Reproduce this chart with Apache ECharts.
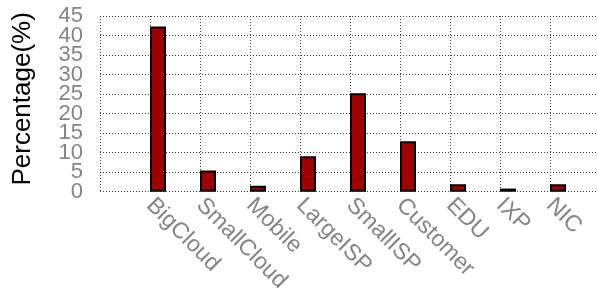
<!DOCTYPE html>
<html>
<head>
<meta charset="utf-8">
<script src="https://cdn.jsdelivr.net/npm/echarts@6/dist/echarts.min.js"></script>
<style>
html,body{margin:0;padding:0;background:#fff;}
#c{width:597px;height:296px;}
</style>
</head>
<body>
<div id="c"></div>
<script>
const categories = ['BigCloud','SmallCloud','Mobile','LargeISP','SmallISP','Customer','EDU','IXP','NIC'];
const percentages = [42.3, 5.4, 1.5, 9.1, 25.2, 12.9, 1.9, 0.8, 1.9];
const yTicks = [0, 5, 10, 15, 20, 25, 30, 35, 40, 45];

const axisCats = [''].concat(categories, ['']);
const barData = [null].concat(percentages, [null]);
const spacer = axisCats.map(() => '-');

const chart = echarts.init(document.getElementById('c'), null, {renderer: 'canvas'});
const font = '"Liberation Sans", Arial, Helvetica, sans-serif';
const yMin = yTicks[0], yMax = yTicks[yTicks.length - 1], yStep = yTicks[1] - yTicks[0];
function yAxisFor(parity, extra) {
  return Object.assign({
    type: 'value',
    position: 'left',
    min: yMin,
    max: yMax,
    interval: yStep,
    axisLine: {show: false},
    axisTick: {show: false},
    axisLabel: {
      color: '#858585', fontSize: 22, fontFamily: font, margin: 17,
      showMinLabel: true, showMaxLabel: true, hideOverlap: false,
      formatter: v => (yTicks.indexOf(v) % 2 === parity ? String(v) : '')
    },
    splitLine: {show: false}
  }, extra);
}
chart.setOption({
  animation: false,
  grid: {left: 100, top: 16, width: 500, height: 175.7, containLabel: false, outerBoundsMode: 'none'},
  xAxis: {
    type: 'category',
    data: axisCats,
    boundaryGap: false,
    axisLine: {show: false},
    axisTick: {show: false},
    axisLabel: {rotate: -45, interval: 0, color: '#858585', fontSize: 23, fontFamily: font, margin: 10, hideOverlap: false},
    splitLine: {show: true, interval: 0, lineStyle: {color: '#444', type: [1, 2], width: 1}}
  },
  yAxis: [
    yAxisFor(0, {
      splitLine: {show: true, lineStyle: {color: '#444', type: [1, 2], width: 1}},
      name: 'Percentage(%)',
      nameLocation: 'middle',
      nameGap: 64,
      nameTextStyle: {color: '#000', fontSize: 26, fontFamily: font, padding: [0, 0, 0, 10]}
    }),
    yAxisFor(1, {})
  ],
  series: [
    {type: 'bar', data: spacer, barWidth: 16, barGap: '0%', silent: true},
    {
      type: 'bar',
      data: barData,
      barWidth: 16,
      barGap: '0%',
      itemStyle: {color: '#a00000', borderColor: '#000', borderWidth: 2}
    }
  ]
});
</script>
</body>
</html>
